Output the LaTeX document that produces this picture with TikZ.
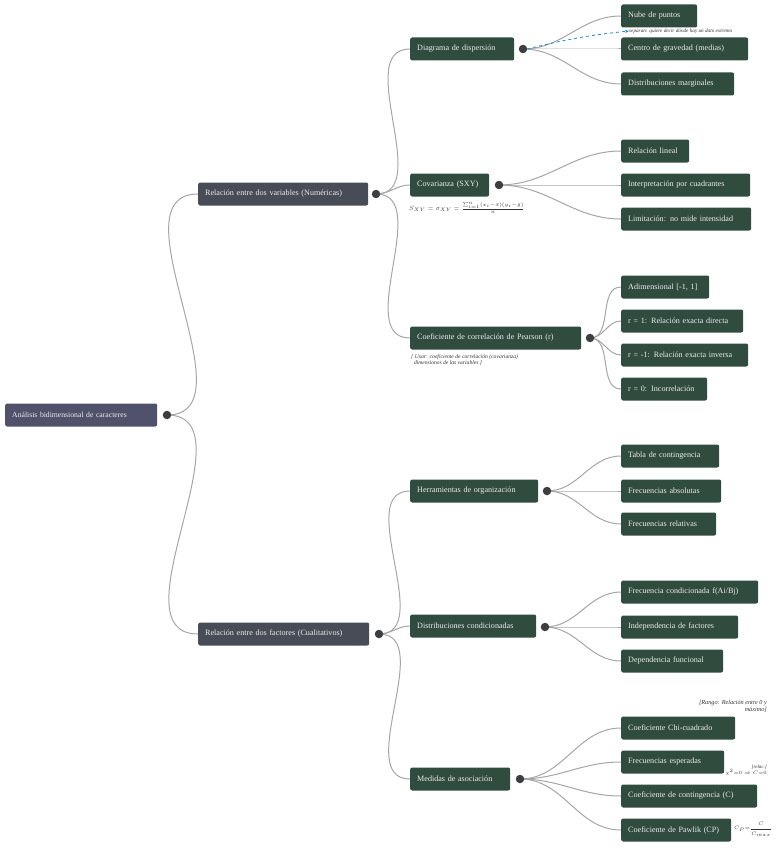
\documentclass[tikz,border=0pt]{standalone}
\usepackage{fontspec}
\setmainfont{Liberation Serif}
\usepackage{amsmath}
\usetikzlibrary{arrows.meta, positioning, backgrounds}
\definecolor{rootcol}{HTML}{50516A}
\definecolor{topiccol}{HTML}{474C57}
\definecolor{greencol}{HTML}{304C3E}
\definecolor{edgecol}{HTML}{A6A6A6}
\definecolor{dotcol}{HTML}{3C3F42}
\definecolor{notecol}{HTML}{1E8CC8}
\tikzset{
    mindmap/.style={x=1pt, y=-1pt, font=\fontsize{8.1}{10}\selectfont},
    box/.style={anchor=west, rounded corners=2pt, minimum height=23pt, inner xsep=7pt, text=white!92!black, align=left},
    wd/.style={text width=#1pt-14pt},
    rootbox/.style={box, fill=rootcol, font=\fontsize{7.7}{9}\selectfont},
    topic/.style={box, fill=topiccol},
    sub/.style={box, fill=greencol},
    leaf/.style={box, fill=greencol},
    dot/.style={circle, fill=dotcol, inner sep=0pt, minimum size=8.5pt},
    edge/.style={draw=edgecol, line width=1pt},
    % handwritten notes
    note/.style={font=\fontsize{5.6}{6.4}\selectfont\itshape, text=black!80, inner sep=0pt, align=left},
}

\begin{document}
\begin{tikzpicture}[mindmap]
    \useasboundingbox (0,0) rectangle (779,848);

    \node[rootbox, wd=152] (root) at (5,415) {Análisis bidimensional de caracteres};

    \node[topic, wd=170] (num)  at (198,194) {Relación entre dos variables (Numéricas)};
    \node[topic, wd=171] (cual) at (198,634) {Relación entre dos factores (Cualitativos)};

    \node[sub, wd=104] (disp)  at (410,49)  {Diagrama de dispersión};
    \node[sub, wd=79]  (cov)   at (410,185) {Covarianza (SXY)};
    \node[sub, wd=171] (pear)  at (410,338) {Coeficiente de correlación de Pearson (r)};
    \node[sub, wd=128] (herr)  at (410,491) {Herramientas de organización};
    \node[sub, wd=126] (cond)  at (410,626) {Distribuciones condicionadas};
    \node[sub, wd=100] (asoc)  at (410,779) {Medidas de asociación};

    \node[leaf, wd=76]  (nube)  at (621,16)  {Nube de puntos};
    \node[leaf, wd=127] (grav)  at (621,49)  {Centro de gravedad (medias)};
    \node[leaf, wd=113] (marg)  at (621,84)  {Distribuciones marginales};
    \node[leaf, wd=68]  (lin)   at (621,151) {Relación lineal};
    \node[leaf, wd=129] (cuad)  at (621,185) {Interpretación por cuadrantes};
    \node[leaf, wd=130] (limi)  at (621,219) {Limitación: no mide intensidad};
    \node[leaf, wd=88]  (adim)  at (621,287) {Adimensional [-1, 1]};
    \node[leaf, wd=122] (rdir)  at (621,321) {r = 1: Relación exacta directa};
    \node[leaf, wd=127] (rinv)  at (621,355) {r = -1: Relación exacta inversa};
    \node[leaf, wd=86]  (rcero) at (621,389) {r = 0: Incorrelación};
    \node[leaf, wd=98]  (tabla) at (621,456) {Tabla de contingencia};
    \node[leaf, wd=100] (fabs)  at (621,491) {Frecuencias absolutas};
    \node[leaf, wd=95]  (frel)  at (621,524) {Frecuencias relativas};
    \node[leaf, wd=137] (fcond) at (621,592) {Frecuencia condicionada f(Ai/Bj)};
    \node[leaf, wd=117] (indep) at (621,627) {Independencia de factores};
    \node[leaf, wd=102] (dfun)  at (621,661) {Dependencia funcional};
    \node[leaf, wd=114] (chi)   at (621,728) {Coeficiente Chi-cuadrado};
    \node[leaf, wd=103] (fesp)  at (621,762) {Frecuencias esperadas};
    \node[leaf, wd=136] (ccont) at (621,796) {Coeficiente de contingencia (C)};
    \node[leaf, wd=110] (cpaw)  at (621,830) {Coeficiente de Pawlik (CP)};

    % collapse dots
    \node[dot] (droot) at (167,415) {};
    \node[dot] (dnum)  at (376,194) {};
    \node[dot] (dcual) at (379,634) {};
    \node[dot] (ddisp) at (523,49)  {};
    \node[dot] (dcov)  at (499,185) {};
    \node[dot] (dpear) at (590,338) {};
    \node[dot] (dherr) at (547,491) {};
    \node[dot] (dcond) at (545,627) {};
    \node[dot] (dasoc) at (520,779) {};

    \begin{scope}[on background layer]
        \foreach \a/\b in {droot/num, droot/cual,
                dnum/disp, dnum/cov, dnum/pear,
                dcual/herr, dcual/cond, dcual/asoc,
                ddisp/nube, ddisp/grav, ddisp/marg,
                dcov/lin, dcov/cuad, dcov/limi,
                dpear/adim, dpear/rdir, dpear/rinv, dpear/rcero,
                dherr/tabla, dherr/fabs, dherr/frel,
                dcond/fcond, dcond/indep, dcond/dfun,
                dasoc/chi, dasoc/fesp, dasoc/ccont, dasoc/cpaw}
            \draw[edge] (\a.center) to[out=0, in=180] (\b.west);
    \end{scope}

    % notes written over the map
    \node[note, anchor=west, font=\fontsize{5.2}{6}\selectfont\itshape] (n1) at (629,31)
        {separan: quiere decir dónde hay un dato extremo};
    \draw[notecol, dashed, line width=0.8pt, -{Stealth[length=4pt]}] (ddisp.east) to[bend left=4] (n1.west);

    \node[note, anchor=north west, font=\fontsize{6.5}{7}\selectfont\itshape] (n2) at (409,202)
        {$S_{XY}=\sigma_{XY}=\frac{\sum_{i=1}^{n}(x_i-\bar{x})(y_i-\bar{y})}{n}$};
    \node[note, anchor=north west] (n3) at (411,354)
        {[ Usar: coeficiente de correlación (covarianza)\\ \ \ dimensiones de las variables ]};
    \node[note, anchor=north east, align=right, font=\fontsize{6.2}{7}\selectfont\itshape] (n4) at (767,700)
        {[Rango: Relación entre 0 y\\ máximo]};
    \node[note, anchor=north east, align=right, font=\fontsize{5}{6}\selectfont\itshape] (n5) at (767,765)
        {[relac.]\\ $\chi^2{=}0\Rightarrow C{=}0$};
    \node[note, anchor=west, font=\fontsize{5.2}{6.2}\selectfont\itshape] (n6) at (734,829)
        {$C_P{=}\dfrac{C}{C_{max}}$};
\end{tikzpicture}
\end{document}
